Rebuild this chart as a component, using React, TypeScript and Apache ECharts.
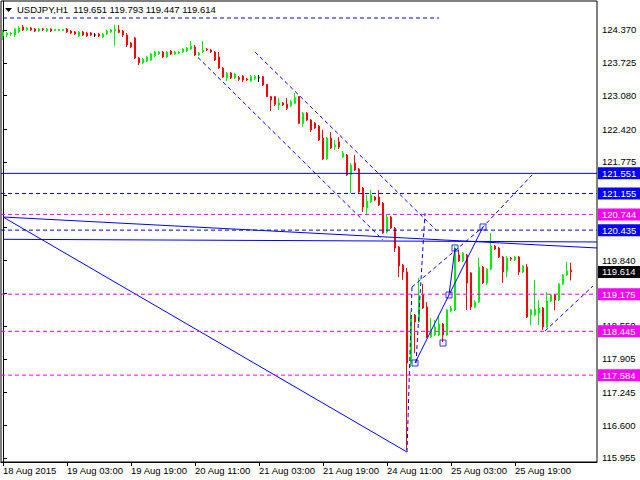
import React, { useEffect, useRef } from "react";
import * as echarts from "echarts";

const FONT = "Liberation Sans";

const symbolName = "USDJPY,H1";
const lastQuote = [119.651, 119.793, 119.447, 119.614];

// [open, close, low, high] per H1 bar, from 18 Aug 2015 11:00
const candles: number[][] = [
  [124.252, 124.331, 124.173, 124.370],
  [124.272, 124.311, 124.232, 124.331],
  [124.291, 124.301, 124.252, 124.331],
  [124.272, 124.390, 124.232, 124.409],
  [124.331, 124.409, 124.311, 124.449],
  [124.429, 124.370, 124.350, 124.468],
  [124.370, 124.409, 124.350, 124.429],
  [124.409, 124.370, 124.350, 124.429],
  [124.390, 124.350, 124.331, 124.409],
  [124.350, 124.390, 124.331, 124.409],
  [124.390, 124.370, 124.350, 124.409],
  [124.350, 124.390, 124.331, 124.409],
  [124.390, 124.350, 124.331, 124.400],
  [124.360, 124.380, 124.350, 124.390],
  [124.360, 124.380, 124.350, 124.390],
  [124.365, 124.380, 124.350, 124.395],
  [124.390, 124.331, 124.311, 124.409],
  [124.350, 124.311, 124.291, 124.370],
  [124.331, 124.291, 124.272, 124.350],
  [124.252, 124.331, 124.232, 124.350],
  [124.331, 124.272, 124.252, 124.350],
  [124.311, 124.252, 124.232, 124.331],
  [124.311, 124.272, 124.252, 124.331],
  [124.272, 124.272, 124.232, 124.311],
  [124.291, 124.252, 124.232, 124.311],
  [124.232, 124.291, 124.213, 124.311],
  [124.291, 124.350, 124.272, 124.370],
  [124.331, 124.370, 124.311, 124.390],
  [124.350, 124.380, 124.061, 124.468],
  [124.370, 124.325, 124.311, 124.468],
  [124.350, 124.272, 124.232, 124.370],
  [124.272, 124.075, 124.036, 124.311],
  [124.114, 124.036, 124.016, 124.134],
  [124.213, 123.819, 123.800, 124.232],
  [123.819, 123.721, 123.682, 123.839],
  [123.721, 123.800, 123.701, 123.819],
  [123.760, 123.839, 123.741, 123.859],
  [123.780, 123.898, 123.760, 123.918],
  [123.859, 123.937, 123.839, 123.957],
  [123.898, 123.937, 123.878, 123.957],
  [123.937, 123.839, 123.819, 123.957],
  [123.839, 123.937, 123.819, 123.957],
  [123.957, 123.898, 123.878, 123.977],
  [123.898, 123.937, 123.878, 123.957],
  [123.918, 123.937, 123.898, 123.957],
  [123.937, 123.996, 123.918, 124.016],
  [123.957, 124.016, 123.937, 124.036],
  [123.996, 124.055, 123.977, 124.154],
  [124.036, 123.878, 123.859, 124.075],
  [123.878, 123.918, 123.859, 123.937],
  [123.937, 123.977, 123.918, 124.154],
  [123.996, 123.977, 123.957, 124.016],
  [123.977, 123.937, 123.918, 123.996],
  [123.937, 123.780, 123.760, 123.957],
  [123.839, 123.623, 123.603, 123.937],
  [123.623, 123.446, 123.426, 123.642],
  [123.426, 123.525, 123.367, 123.544],
  [123.525, 123.426, 123.407, 123.544],
  [123.426, 123.505, 123.407, 123.525],
  [123.432, 123.401, 123.367, 123.466],
  [123.466, 123.387, 123.348, 123.485],
  [123.407, 123.387, 123.367, 123.426],
  [123.367, 123.452, 123.348, 123.485],
  [123.420, 123.452, 123.387, 123.485],
  [123.432, 123.432, 123.348, 123.485],
  [123.452, 123.289, 123.269, 123.466],
  [123.302, 123.059, 123.053, 123.308],
  [123.059, 122.994, 122.777, 123.072],
  [123.059, 122.909, 122.876, 123.072],
  [122.895, 122.935, 122.797, 123.033],
  [122.935, 122.895, 122.876, 122.954],
  [122.909, 122.830, 122.797, 123.033],
  [122.882, 122.960, 122.856, 122.994],
  [122.929, 123.039, 122.915, 123.131],
  [123.059, 122.535, 122.522, 123.072],
  [122.535, 122.732, 122.463, 122.758],
  [122.732, 122.600, 122.581, 122.758],
  [122.600, 122.404, 122.364, 122.620],
  [122.541, 122.443, 122.423, 122.561],
  [122.482, 122.207, 122.188, 122.502],
  [122.246, 121.834, 121.814, 122.404],
  [121.834, 122.246, 121.814, 122.266],
  [122.246, 122.050, 122.030, 122.364],
  [122.069, 122.109, 122.011, 122.207],
  [122.168, 122.069, 122.030, 122.266],
  [121.873, 121.952, 121.853, 121.991],
  [121.912, 121.519, 121.499, 121.932],
  [121.519, 121.716, 121.165, 121.755],
  [121.755, 121.617, 121.598, 121.912],
  [121.637, 121.185, 121.165, 121.657],
  [121.263, 120.890, 120.792, 121.283],
  [120.870, 121.008, 120.732, 121.125],
  [120.988, 121.125, 120.968, 121.224],
  [121.086, 121.027, 121.008, 121.106],
  [121.086, 120.929, 120.909, 121.224],
  [120.968, 120.379, 120.359, 120.988],
  [120.398, 120.693, 120.379, 120.732],
  [120.693, 120.477, 120.457, 120.713],
  [120.477, 120.084, 120.005, 120.497],
  [120.103, 119.730, 119.513, 120.123],
  [119.749, 119.612, 119.455, 119.769],
  [119.612, 117.823, 116.112, 119.690],
  [117.823, 118.766, 117.744, 118.825],
  [118.766, 118.629, 118.019, 118.786],
  [118.629, 119.160, 118.609, 119.494],
  [119.160, 118.904, 118.884, 119.376],
  [118.924, 118.334, 118.314, 119.022],
  [118.334, 118.491, 118.314, 118.707],
  [118.373, 118.530, 118.353, 118.668],
  [118.373, 118.589, 118.353, 118.747],
  [118.589, 118.373, 118.235, 118.609],
  [118.373, 118.865, 118.353, 118.884],
  [118.845, 118.904, 118.825, 118.943],
  [118.865, 120.084, 118.845, 120.123],
  [119.946, 119.828, 119.808, 120.044],
  [119.828, 119.985, 119.808, 120.005],
  [119.946, 119.396, 118.865, 119.966],
  [119.592, 118.924, 118.865, 119.612],
  [118.924, 119.022, 118.904, 119.061],
  [119.022, 119.710, 119.002, 119.887],
  [119.710, 119.396, 119.376, 119.730],
  [119.396, 119.671, 119.356, 119.690],
  [119.671, 120.123, 119.651, 120.379],
  [120.123, 120.064, 120.044, 120.143],
  [120.084, 119.907, 119.887, 120.103],
  [119.907, 119.612, 119.396, 119.926],
  [119.631, 119.887, 119.513, 119.926],
  [119.887, 119.867, 119.828, 119.907],
  [119.848, 119.907, 119.828, 119.926],
  [119.907, 119.612, 119.553, 119.926],
  [119.612, 119.730, 119.592, 119.749],
  [119.710, 118.727, 118.707, 119.769],
  [118.766, 118.865, 118.570, 118.884],
  [118.766, 118.884, 118.747, 119.455],
  [118.806, 118.904, 118.570, 119.061],
  [118.904, 118.530, 118.471, 118.924],
  [118.530, 119.042, 118.511, 119.219],
  [119.042, 119.160, 119.022, 119.180],
  [119.160, 119.061, 118.865, 119.180],
  [119.061, 119.376, 119.042, 119.396],
  [119.376, 119.553, 119.356, 119.572],
  [119.553, 119.631, 119.533, 119.808],
  [119.651, 119.614, 119.447, 119.793],
];

const yTickLabels = [
  115.955, 116.6, 117.245, 117.905, 118.55, 119.195, 119.84, 120.485, 121.13,
  121.775, 122.42, 123.08, 123.725, 124.37,
];

// horizontal levels with their price boxes
const levelValues = [121.551, 121.155, 120.744, 120.435, 119.614, 119.175, 118.445, 117.584];
const levelKinds = ["blueSolid", "blueDash", "magentaDash", "blueDash", "current", "magentaDash", "magentaDash", "magentaDash"];

// drawn objects: [bar index, price]
const topDashedLine = [[0, 124.606], [109, 124.606]];
const trendA = [[0, 120.693], [148.5, 120.084]];
const trendB = [[0, 120.255], [148.5, 120.202]];
const trendC = [[0, 120.693], [101, 116.072]];
const channelUpper = [[63, 123.937], [108.25, 120.438]];
const channelLower = [[48.75, 123.829], [95, 120.241]];
const waveV1 = [[101, 116.072], [102.25, 119.317]];
const waveV2 = [[103.25, 117.823], [105.5, 120.772]];
const waveD1 = [[102.25, 119.317], [120, 120.497], [132.25, 121.519]];
const waveL1 = [[103, 117.823], [111.5, 119.16], [120, 120.497]];
const waveL2 = [[111.5, 119.16], [113, 120.084]];
const waveD4 = [[135.5, 118.452], [147.5, 119.337]];
const waveBoxes = [[103, 117.823], [111.5, 119.16], [113, 120.084], [120, 120.497], [110, 118.215]];

const TOTAL_SLOTS = 149;
const MONTHS = ["Jan", "Feb", "Mar", "Apr", "May", "Jun", "Jul", "Aug", "Sep", "Oct", "Nov", "Dec"];

function buildTimeLabels(n: number): string[] {
  const out: string[] = [];
  let t = Date.UTC(2015, 7, 18, 11);
  while (out.length < n) {
    const d = new Date(t);
    const wd = d.getUTCDay();
    if (wd !== 0 && wd !== 6) {
      const dd = String(d.getUTCDate()).padStart(2, "0");
      const mon = MONTHS[d.getUTCMonth()];
      if (out.length === 0) out.push(`${dd} ${mon} ${d.getUTCFullYear()}`);
      else out.push(`${dd} ${mon} ${String(d.getUTCHours()).padStart(2, "0")}:00`);
    }
    t += 3600000;
  }
  return out;
}

const BLUE = "#0000ff";
const MAGENTA = "#ff00ff";
const UP = "#00ee00";
const DOWN = "#ff0000";

function levelStyle(kind: string) {
  if (kind === "blueSolid") return { color: BLUE, type: "solid", box: BLUE, show: true };
  if (kind === "blueDash") return { color: BLUE, type: [4, 3], box: BLUE, show: true };
  if (kind === "magentaDash") return { color: MAGENTA, type: [4, 3], box: MAGENTA, show: true };
  return { color: "#000", type: "solid", box: "#000", show: false };
}

function lineSeries(data: number[][], color: string, dashed: boolean) {
  return {
    type: "line",
    xAxisIndex: 1,
    yAxisIndex: 0,
    data,
    symbol: "none",
    showSymbol: false,
    silent: true,
    z: 3,
    color,
    lineStyle: { color, width: 1, type: dashed ? [4, 3] : "solid" },
  };
}

function levelSeries(v: number, kind: string) {
  const s = levelStyle(kind);
  return {
    type: "line",
    xAxisIndex: 1,
    yAxisIndex: 0,
    data: [[-0.5, v], [TOTAL_SLOTS - 0.5, v]],
    symbol: "none",
    showSymbol: false,
    silent: true,
    z: 5,
    color: s.color,
    lineStyle: s.show
      ? { color: s.color, type: s.type, width: 1 }
      : { color: "#000", width: 0, opacity: 0 },
    endLabel: {
      show: true,
      distance: 1,
      formatter: () => v.toFixed(3),
      color: "#fff",
      backgroundColor: s.box,
      padding: [1, 8, 0, 4],
      fontSize: 9.5,
      fontFamily: FONT,
      lineHeight: 11,
    },
  };
}

export default function App() {
  const ref = useRef<HTMLDivElement>(null);
  useEffect(() => {
    if (!ref.current) return;
    const chart = echarts.init(ref.current, null, { renderer: "svg" });
    const times = buildTimeLabels(TOTAL_SLOTS);
    const showIdx = (i: number) => i % 16 === 0 && i < candles.length;

    const candleData = candles.map((c) =>
      c[0] === c[1]
        ? { value: c, itemStyle: { color: "#000", color0: "#000", borderColor: "#000", borderColor0: "#000" } }
        : c
    );

    const option: any = {
      animation: false,
      backgroundColor: "#fff",
      grid: { left: 1, right: 43, top: 1, bottom: 18, show: true, borderColor: "#000", borderWidth: 1, backgroundColor: "#fff" },
      graphic: [
        { type: "polygon", shape: { points: [[5, 8], [12, 8], [8.5, 12]] }, style: { fill: "#000" } },
        {
          type: "text",
          left: 17,
          top: 4,
          style: {
            text: `${symbolName}  ${lastQuote.map((q) => q.toFixed(3)).join(" ")}`,
            fontSize: 9.5,
            fontFamily: FONT,
            fill: "#000",
          },
        },
      ],
      xAxis: [
        {
          type: "category",
          data: times,
          boundaryGap: true,
          axisLine: { show: true, lineStyle: { color: "#000" } },
          axisTick: { show: true, alignWithLabel: true, interval: (i: number) => showIdx(i), length: 4, lineStyle: { color: "#000" } },
          axisLabel: { interval: (i: number) => showIdx(i), align: "left", margin: 3, fontSize: 9.5, fontFamily: FONT, color: "#000" },
          splitLine: { show: false },
        },
        { type: "value", min: -0.5, max: TOTAL_SLOTS - 0.5, show: false },
      ],
      yAxis: {
        type: "value",
        position: "right",
        min: 115.876,
        max: 124.94,
        scale: true,
        axisLine: { show: true, lineStyle: { color: "#000" } },
        axisTick: { show: true, length: 4, customValues: yTickLabels, lineStyle: { color: "#000" } },
        axisLabel: {
          customValues: yTickLabels,
          formatter: (v: number) => v.toFixed(3),
          margin: 5,
          fontSize: 9.5,
          fontFamily: FONT,
          color: "#000",
        },
        splitLine: { show: false },
      },
      series: [
        {
          type: "candlestick",
          xAxisIndex: 0,
          yAxisIndex: 0,
          data: candleData,
          barWidth: 2,
          silent: true,
          itemStyle: { color: UP, color0: DOWN, borderColor: UP, borderColor0: DOWN, borderWidth: 1 },
        },
        ...levelValues.map((v, i) => levelSeries(v, levelKinds[i])),
        lineSeries(topDashedLine, BLUE, true),
        lineSeries(trendA, BLUE, false),
        lineSeries(trendB, BLUE, false),
        lineSeries(trendC, BLUE, false),
        lineSeries(channelUpper, BLUE, true),
        lineSeries(channelLower, BLUE, true),
        lineSeries(waveV1, BLUE, true),
        lineSeries(waveV2, BLUE, true),
        lineSeries(waveD1, BLUE, true),
        lineSeries(waveL1, BLUE, false),
        lineSeries(waveL2, BLUE, false),
        lineSeries(waveD4, BLUE, true),
        {
          type: "scatter",
          xAxisIndex: 1,
          yAxisIndex: 0,
          data: waveBoxes,
          symbol: "rect",
          symbolSize: 6,
          silent: true,
          z: 4,
          itemStyle: { color: "rgba(0,0,0,0)", borderColor: BLUE, borderWidth: 1 },
        },
      ],
    };
    chart.setOption(option);
    return () => chart.dispose();
  }, []);
  return (
    <div
      ref={ref}
      style={{ position: "absolute", left: 0, top: 0, width: 640, height: 480, background: "#fff" }}
    />
  );
}
